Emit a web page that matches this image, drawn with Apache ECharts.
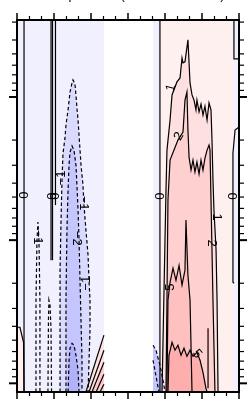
<!DOCTYPE html>
<html>
<head>
<meta charset="utf-8">
<script src="https://cdn.jsdelivr.net/npm/echarts@6/dist/echarts.min.js"></script>
<style>html,body{margin:0;padding:0;background:#fff}#chart{width:248px;height:405px}</style>
</head>
<body>
<div id="chart"></div>
<script>
// axis ranges (latitude, pressure hPa)
const latRange = [-90, 90];
const pRange = [2.9, 1150];
const pMajorTicks = [10, 100, 1000];
const pMinorTicks = [3, 4, 5, 6, 7, 8, 9, 20, 30, 40, 50, 60, 70, 80, 90, 200, 300, 400, 500, 600, 700, 800, 900];
const titleText = 'Temperature (relative to 1980s)';

// full-height shaded latitude bands
const blueBands = [[-90, -19.5], [20.3, 25.9], [85.9, 90]];
const pinkBands = [[25.9, 85.9]];

// negative areas [lat, p]
const bluePlume1 = [[-55.1,1150],[-55.1,162],[-54.3,72.4],[-53.5,38],[-52.7,24.7],[-51.1,19.4],[-50.3,15.7],[-48.6,12.3],[-47,9.23],[-45.4,7.98],[-44.6,7.6],[-43,8.11],[-42.2,9.68],[-41.4,11.9],[-40.5,14.5],[-39.7,18.5],[-38.9,23.5],[-38.1,29.9],[-36.5,41.2],[-35.7,56.9],[-34.1,85.1],[-32.4,127],[-31.6,191],[-30.8,263],[-30.8,426],[-31.6,690],[-32.4,1150]];
const bluePlume2 = [[-50.3,1150],[-50.3,263],[-49.5,85.1],[-48.6,44.7],[-47.8,29.9],[-47,24.3],[-45.4,22],[-43.8,23.5],[-42.2,29.9],[-41.4,41.2],[-40.5,61.6],[-39.7,100],[-38.9,191],[-38.1,363],[-37.3,690],[-37.3,1150]];
const bluePlume3 = [[-48.6,1150],[-47.8,690],[-47,569],[-45.4,525],[-43.8,542],[-42.2,637],[-40.5,811],[-39.7,1150]];
const blueFootNH = [[20.3,542],[22.7,587],[25.9,748],[28.4,953],[30,1150],[20.3,1150]];

// positive areas [lat, p]
const pinkCornerSH = [[-90,406],[-87.6,406],[-84.7,517],[-84.3,1150],[-90,1150]];
const pinkWedge = [[-34.1,1150],[-26.8,713],[-19.5,461],[-19.5,1150]];
const pinkWedgeInner = [[-29.2,1150],[-19.5,713],[-19.5,1150]];
const pinkPlume1 = [[27.6,1150],[28.4,500],[29.2,224],[30,100],[30.8,44.7],[31.6,23.5],[34.1,14.5],[35.7,9.68],[39.7,7.85],[42.2,7.36],[43.8,5.34],[44.6,5.78],[46.2,5.69],[48.6,3.99],[50.3,7.98],[51.9,9.68],[53.5,10.5],[55.1,12.3],[55.9,10.5],[57.6,12.7],[59.2,11.2],[60.8,13.4],[62.4,11.6],[64.1,14.5],[65.7,11],[67.3,12.3],[68.1,20],[68.9,38],[69.7,61.6],[71.4,117],[72.2,263],[73,1150]];
const pinkPlume2 = [[30.8,1150],[31.6,263],[32.4,52.5],[34.1,27.6],[37.3,23.5],[40.5,20],[44.6,17.6],[46.2,10.5],[47.8,9.23],[48.6,17],[49.5,26.3],[51.1,32.4],[52.7,27.6],[54.3,33.4],[55.9,28.5],[57.6,34.5],[59.2,27.6],[60.8,32.4],[62.4,26.7],[64.1,23.5],[65.7,21.7],[66.5,23.5],[67.3,52.5],[68.1,117],[68.9,263],[70.5,1150]];
const pinkPlume3 = [[31.6,1150],[32.4,263],[34.1,197],[36.5,157],[38.9,191],[41.4,150],[43.8,206],[46.2,162],[47,72.4],[48.6,176],[50.3,263],[51.9,1150]];
const pinkPlume4 = [[32.4,1150],[33.2,637],[35.7,517],[38.1,587],[40.5,542],[43,637],[45.4,569],[47.8,648],[50.3,587],[52.7,648],[55.9,607],[58.4,690],[60.8,838],[63.2,1084],[64.1,1150]];

// extra contour lines
const zeroContours = [
  [[-84.3,2.9],[-84.3,1150]],
  [[-62.4,2.9],[-62.4,138]],
  [[-61.2,2.9],[-61.2,138]],
  [[-58.8,2.9],[-58.8,56.9]],
  [[25.9,2.9],[25.9,1150]],
  [[85.9,2.9],[85.9,5.42],[90,5.42]],
  [[90,16.2],[86.8,17],[85.1,24.7],[85.1,197],[86,200]],
  [[-90,406],[-87.6,406],[-84.7,517],[-84.3,1150]]
];
const posContours = [
  [[-34.1,1150],[-19.5,461]],
  [[-31.6,1150],[-19.5,587]],
  [[-29.2,1150],[-19.5,713]],
  [[-25.9,1150],[-19.5,865]],
  [[-22.7,1150],[-19.5,1016]],
  [[64.9,412],[64.9,1084]]
];
const negContours = [
  [[-74.6,1150],[-74.6,263],[-73.8,100],[-73,74.8],[-72.2,100],[-71.4,263],[-71.4,1150]],
  [[-64.9,1150],[-64.5,363],[-64.1,263],[-63.2,285],[-62.4,426],[-62,1150]],
  [[20.3,542],[22.7,587],[25.9,748],[28.4,953],[30,1150]],
  [[20.3,690],[25.1,1150]]
];

// contour labels
const labelPos = [[-84.3,48.4],[-61.6,49.2],[-58.8,49.2],[25.9,49.2],[85.1,49.2],[-73,95.3],[-41.4,97],[-35.7,55.1],[-54.3,36.8],[-34.1,200],[34.9,8.65],[41.4,18.8],[72.2,69],[68.1,105],[34.1,213],[55.9,625]];
const labelText = ['0','0','0','0','0','−1','−2','−1','−1','−1','1','2','1','2','5','5'];
const labelAngle = [90,90,90,90,90,-90,-90,-90,90,90,75,60,-90,-90,90,-50];

const chart = echarts.init(document.getElementById('chart'));

function bandSeries(bands, color) {
  return {
    type: 'custom', silent: true, z: 1, clip: true,
    data: bands.map(b => [b[0], pRange[0], b[1], pRange[1]]),
    renderItem: (params, api) => {
      const a = api.coord([api.value(0), api.value(1)]);
      const b = api.coord([api.value(2), api.value(3)]);
      return { type: 'rect', shape: { x: a[0], y: a[1], width: b[0] - a[0], height: b[1] - a[1] }, style: { fill: color } };
    }
  };
}

function fillSeries(layers, z) {
  return {
    type: 'custom', silent: true, z: z, clip: true,
    data: layers.map(l => l.pts[0]),
    renderItem: (params, api) => {
      const l = layers[params.dataIndex];
      return { type: 'polygon', shape: { points: l.pts.map(pt => api.coord(pt)) }, style: { fill: l.color } };
    }
  };
}

function lineSeries(lines, dashed, z) {
  return {
    type: 'custom', silent: true, z: z, clip: true,
    data: lines.map(l => l[0]),
    renderItem: (params, api) => ({
      type: 'polyline',
      shape: { points: lines[params.dataIndex].map(pt => api.coord(pt)) },
      style: { stroke: '#000', lineWidth: 1.2, fill: 'none', lineDash: dashed ? [3.5, 2.5] : null }
    })
  };
}

function tickSeries(ticks, len, width) {
  return {
    type: 'custom', silent: true, z: 20, clip: false,
    data: ticks.map(p => [latRange[0], p]),
    renderItem: (params, api) => {
      const l = api.coord([latRange[0], api.value(1)]);
      const r = api.coord([latRange[1], api.value(1)]);
      const st = { stroke: '#000', lineWidth: width };
      return {
        type: 'group',
        children: [
          { type: 'line', shape: { x1: l[0] - len, y1: l[1], x2: l[0], y2: l[1] }, style: st },
          { type: 'line', shape: { x1: r[0], y1: r[1], x2: r[0] + len, y2: r[1] }, style: st }
        ]
      };
    }
  };
}

const axisCommon = {
  axisLine: { show: true, onZero: false, lineStyle: { color: '#000', width: 2 } },
  axisLabel: { show: false },
  splitLine: { show: false },
  z: 10
};
const xCommon = Object.assign({
  type: 'value', min: latRange[0], max: latRange[1], interval: 30,
  axisTick: { show: true, length: 7, lineStyle: { color: '#000', width: 1.5 } },
  minorTick: { show: true, splitNumber: 3, length: 4, lineStyle: { color: '#000', width: 1.2 } }
}, axisCommon);
const yCommon = Object.assign({
  type: 'log', logBase: 10, inverse: true, min: pRange[0], max: pRange[1],
  axisTick: { show: false }
}, axisCommon);

const option = {
  animation: false,
  backgroundColor: '#fff',
  // title sits mostly above the window, as in the reference
  graphic: [{
    type: 'text', x: 44, y: 2, silent: true,
    style: {
      text: titleText, fill: '#000',
      font: '13px "Liberation Sans", Arial, sans-serif',
      verticalAlign: 'bottom'
    }
  }],
  grid: { left: 17, right: 9, top: 20, bottom: 13, containLabel: false, outerBoundsMode: 'none' },
  xAxis: [
    Object.assign({ position: 'bottom' }, xCommon),
    Object.assign({ position: 'top' }, xCommon)
  ],
  yAxis: [
    Object.assign({ position: 'left' }, yCommon),
    Object.assign({ position: 'right' }, yCommon)
  ],
  series: [
    bandSeries(blueBands, '#f0f0ff'),
    bandSeries(pinkBands, '#fff0f0'),
    fillSeries([
      { pts: bluePlume1, color: '#dadaff' },
      { pts: bluePlume2, color: '#c6c6ff' },
      { pts: bluePlume3, color: '#b2b2fa' },
      { pts: blueFootNH, color: '#c4c4ff' },
      { pts: pinkCornerSH, color: '#ffeeee' },
      { pts: pinkWedge, color: '#ffe2e2' },
      { pts: pinkWedgeInner, color: '#ffcccc' },
      { pts: pinkPlume1, color: '#ffe0e0' },
      { pts: pinkPlume2, color: '#ffd0d0' },
      { pts: pinkPlume3, color: '#ffc0c0' },
      { pts: pinkPlume4, color: '#ffaeae' }
    ], 2),
    lineSeries([bluePlume1, bluePlume2, bluePlume3].concat(negContours), true, 5),
    lineSeries([pinkPlume1, pinkPlume2, pinkPlume3, pinkPlume4].concat(zeroContours, posContours), false, 5),
    {
      type: 'custom', silent: true, z: 15, clip: false,
      data: labelPos,
      renderItem: (params, api) => {
        const pt = api.coord(labelPos[params.dataIndex]);
        return {
          type: 'text', x: pt[0], y: pt[1],
          rotation: labelAngle[params.dataIndex] * Math.PI / 180,
          style: {
            text: labelText[params.dataIndex], fill: '#000',
            font: '13px "Liberation Sans", Arial, sans-serif',
            align: 'center', verticalAlign: 'middle'
          }
        };
      }
    },
    tickSeries(pMajorTicks, 8, 2),
    tickSeries(pMinorTicks, 5, 1.2)
  ]
};

chart.setOption(option);
</script>
</body>
</html>
